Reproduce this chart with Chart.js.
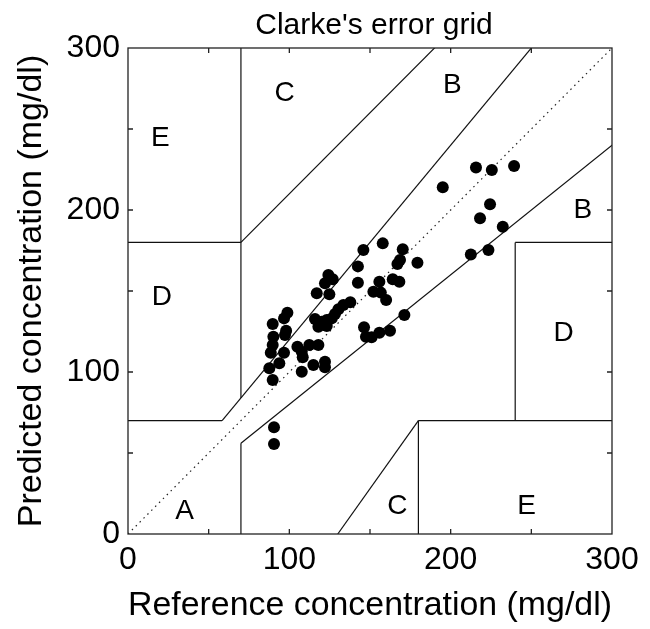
<!DOCTYPE html>
<html><head><meta charset="utf-8">
<script src="https://cdn.jsdelivr.net/npm/chart.js@4/dist/chart.umd.min.js"></script>
<style>html,body{margin:0;padding:0;background:#fff}canvas{display:block}</style>
</head><body>
<canvas id="c" width="650" height="629"></canvas>
<script>
// Measured data (reference vs predicted, mg/dl)
const refValues = [89.7,98.8,96.7,98,90.1,97.3,89.7,88.5,96.7,93.8,87.6,89.7,90.5,90.5,
  105,112.4,118,107.7,108.3,107.7,114.9,122.1,122.1,
  124.2,126.9,122.1,117,124.8,142.5,142.5,137.8,133.5,130.4,128.3,126.3,123.2,120.1,115.9,118,123.2,
  145.9,157.9,170.3,168.6,167,179.4,155.8,152.1,156.7,160,164.1,168.2,171.3,146.3,147.5,151,155.8,162.4,
  195.1,215.7,225.5,239.3,224.4,218.2,232.3,212.5,223.4];
const predValues = [129.6,136.6,133.1,125.5,121.8,122.8,116.7,111.9,111.9,105.4,102.3,95,65.9,55.6,
  115.6,116.7,116.7,112.5,109.1,100.2,104.3,106.4,102.9,
  159.9,157.2,154.8,148.6,148,165.2,155.1,143,141.4,138.7,135.8,133.1,132.1,131,132.7,128,128.4,
  175.3,179.4,175.7,169.1,166.7,167.5,155.7,149.6,149,144.4,157.2,155.7,135.2,127.6,121.8,121.4,124.3,125.5,
  214,226.3,224.7,227.2,203.5,194.9,189.7,172.6,175.3];

// Axis ticks
const axisTicks = [0, 100, 200, 300];
const minorTicks = [50, 100, 150, 200, 250];

// Clarke error grid zone boundaries [x1, y1, x2, y2]
const zoneSegments = [
  [0, 70, 175/3, 70],
  [175/3, 70, 400/1.2, 400],
  [70, 84, 70, 400],
  [0, 180, 70, 180],
  [70, 180, 290, 400],
  [70, 0, 70, 56],
  [70, 56, 400, 320],
  [180, 0, 180, 70],
  [180, 70, 400, 70],
  [240, 70, 240, 180],
  [240, 180, 400, 180],
  [130, 0, 180, 70]
];
const diagonalLine = [0, 0, 400, 400];

// Zone letters
const zoneLabels = ['E', 'C', 'B', 'D', 'B', 'D', 'A', 'C', 'E'];
const zoneLabelX = [20, 97, 201, 21, 282, 270, 35, 167, 247];
const zoneLabelY = [244, 272, 277, 146, 200, 124, 14, 17, 17];

const chartTitle = "Clarke's error grid";
const FONT = "'Liberation Sans', Arial, Helvetica, sans-serif";

const datasets = [];
datasets.push({
  type: 'scatter',
  data: refValues.map((x, i) => ({x: x, y: predValues[i]})),
  backgroundColor: '#000', borderColor: '#000',
  pointRadius: 6, pointHoverRadius: 6, borderWidth: 0, order: 0
});
zoneSegments.forEach(s => datasets.push({
  type: 'scatter', showLine: true,
  data: [{x: s[0], y: s[1]}, {x: s[2], y: s[3]}],
  borderColor: '#111', borderWidth: 1.2, pointRadius: 0, order: 1
}));
datasets.push({
  type: 'scatter', showLine: true,
  data: [{x: diagonalLine[0], y: diagonalLine[1]}, {x: diagonalLine[2], y: diagonalLine[3]}],
  borderColor: '#222', borderWidth: 1.2, borderDash: [1.5, 4], pointRadius: 0, order: 1
});

const framePlugin = {
  id: 'frame',
  afterDatasetsDraw(chart) {
    const {ctx, chartArea: a, scales: {x, y}} = chart;
    ctx.save();
    ctx.strokeStyle = '#222';
    ctx.lineWidth = 1.3;
    ctx.strokeRect(a.left, a.top, a.right - a.left, a.bottom - a.top);
    ctx.beginPath();
    const tl = 5;
    minorTicks.forEach(v => {
      const px = x.getPixelForValue(v);
      ctx.moveTo(px, a.bottom); ctx.lineTo(px, a.bottom - tl);
      ctx.moveTo(px, a.top); ctx.lineTo(px, a.top + tl);
      const py = y.getPixelForValue(v);
      ctx.moveTo(a.left, py); ctx.lineTo(a.left + tl, py);
      ctx.moveTo(a.right, py); ctx.lineTo(a.right - tl, py);
    });
    ctx.stroke();
    ctx.fillStyle = '#000';
    ctx.font = '28px ' + FONT;
    ctx.textAlign = 'center';
    ctx.textBaseline = 'middle';
    zoneLabels.forEach((t, i) => {
      ctx.fillText(t, x.getPixelForValue(zoneLabelX[i]), y.getPixelForValue(zoneLabelY[i]));
    });
    // title centred over the axes
    ctx.font = '30px ' + FONT;
    ctx.textBaseline = 'alphabetic';
    ctx.fillText(chartTitle, (a.left + a.right) / 2 + 4, a.top - 14);
    ctx.restore();
  }
};

new Chart(document.getElementById('c'), {
  type: 'scatter',
  data: {datasets},
  options: {
    responsive: false, animation: false, devicePixelRatio: 1,
    layout: {padding: {left: 0, right: 38, top: 48, bottom: 0}},
    plugins: {
      legend: {display: false}, tooltip: {enabled: false}, title: {display: false}
    },
    scales: {
      x: {
        type: 'linear', min: 0, max: 300,
        afterBuildTicks: s => { s.ticks = axisTicks.map(v => ({value: v})); },
        afterFit: s => { s.height = 95; },
        grid: {display: false, drawTicks: false},
        border: {display: false},
        ticks: {color: '#000', padding: 7, font: {family: FONT, size: 32}, maxRotation: 0},
        title: {display: true, text: 'Reference concentration (mg/dl)', color: '#000',
          font: {family: FONT, size: 34}, padding: {top: 0, bottom: 3}}
      },
      y: {
        type: 'linear', min: 0, max: 300,
        afterBuildTicks: s => { s.ticks = axisTicks.map(v => ({value: v})); },
        afterFit: s => { s.width = 128; },
        grid: {display: false, drawTicks: false},
        border: {display: false},
        ticks: {color: '#000', padding: 8, font: {family: FONT, size: 32}},
        title: {display: true, text: 'Predicted concentration (mg/dl)', color: '#000',
          font: {family: FONT, size: 34}, padding: {top: 11, bottom: 0}}
      }
    }
  },
  plugins: [framePlugin]
});
</script>
</body></html>
